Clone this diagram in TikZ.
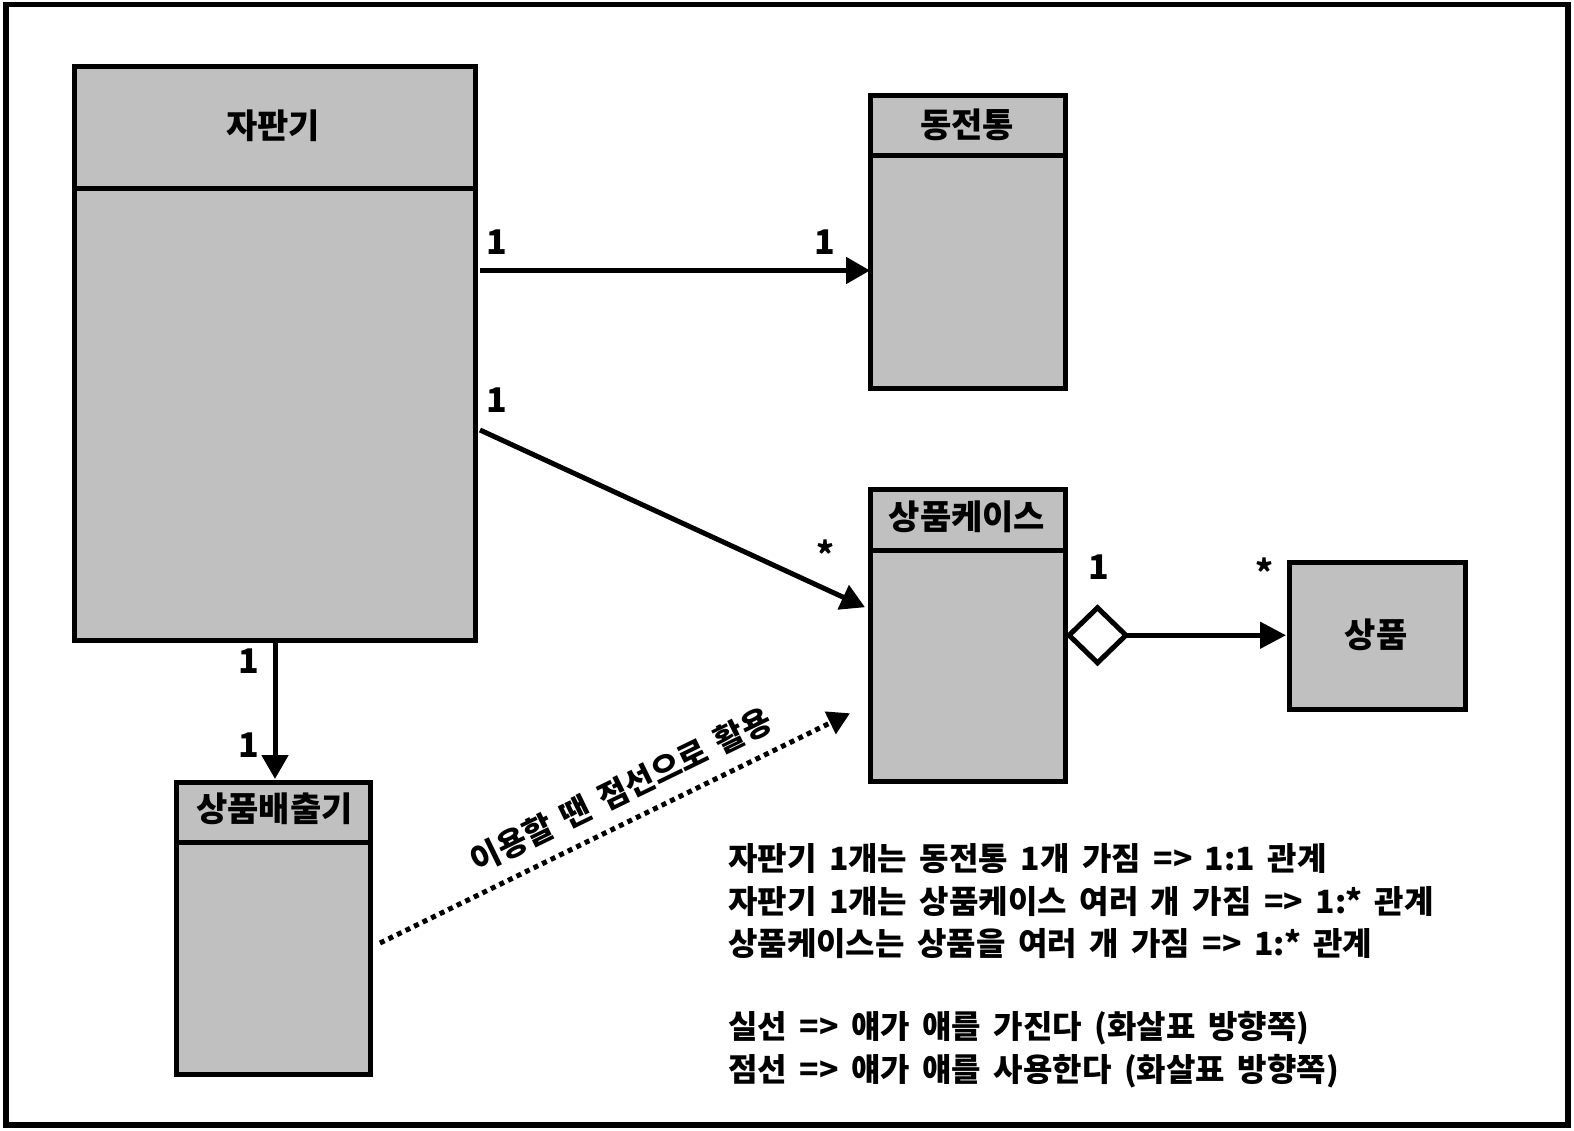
\documentclass[tikz,border=0pt]{standalone}
\usepackage{fontspec}
\usetikzlibrary{arrows.meta}
\newfontfamily\kr{Noto Sans CJK KR}
\newcommand\mynotefont{\kr\bfseries\fontsize{32}{38}\selectfont\spaceskip=12.5pt\relax}
\newcommand\mylabelfont{\kr\bfseries\fontsize{32}{38}\selectfont\spaceskip=12pt\relax}
\definecolor{boxgray}{RGB}{192,192,192}
\begin{document}
\begin{tikzpicture}[x=1pt,y=-1pt,
  cls/.style={draw, line width=5pt, fill=boxgray, outer sep=0pt, inner sep=0pt},
  ttl/.style={font=\kr\bfseries\fontsize{34}{40}\selectfont, inner sep=0pt},
  num/.style={font=\kr\bfseries\fontsize{34}{40}\selectfont, inner sep=0pt},
  note/.style={font=\mynotefont, inner sep=0pt, anchor=base west},
  divider/.style={line width=5pt},
  assoc/.style={line width=5pt, -{Triangle[length=24pt,width=26pt]}},
  useline/.style={line width=5pt, dash pattern=on 5pt off 4.5pt, -{Triangle[length=22pt,width=24pt]}},
  aggr/.style={line width=5pt, {Diamond[open,length=64pt,width=62pt]}-{Triangle[length=26pt,width=26pt]}}
]
\useasboundingbox (0,0) rectangle (1574,1130);
\draw[line width=5.5pt] (6,4.5) rectangle (1568,1125);

% classes
\node[cls, minimum width=401pt, minimum height=574pt] (vm) at (275,353.5) {};
\draw[divider] ([shift={(0,121.5)}]vm.north west) -- ([shift={(0,121.5)}]vm.north east);
\node[ttl] (vmt) at (273,126) {자판기};

\node[cls, minimum width=195.5pt, minimum height=293pt] (coin) at (967.75,241.5) {};
\draw[divider] ([shift={(0,60)}]coin.north west) -- ([shift={(0,60)}]coin.north east);
\node[ttl] (coint) at (967,125) {동전통};

\node[cls, minimum width=195.5pt, minimum height=291.5pt] (case) at (967.75,635.25) {};
\draw[divider] ([shift={(0,61)}]case.north west) -- ([shift={(0,61)}]case.north east);
\node[ttl] (caset) at (967,517) {상품케이스};

\node[cls, minimum width=176.5pt, minimum height=147pt] (prod) at (1377.25,636) {};
\node[ttl] (prodt) at (1376,635) {상품};

\node[cls, minimum width=194pt, minimum height=292pt] (disp) at (273.5,928) {};
\draw[divider] ([shift={(0,60.5)}]disp.north west) -- ([shift={(0,60.5)}]disp.north east);
\node[ttl] (dispt) at (274.5,808.5) {상품배출기};

% connectors
\draw[assoc] ([shift={(4.5,204)}]vm.north east) -- ([shift={(0,29)}]coin.west);
\draw[assoc] ([shift={(4.5,363.5)}]vm.north east) -- ([shift={(-5,-28)}]case.west);
\draw[aggr] (case.east) -- ([shift={(-3,0)}]case.east -| prod.west);
\draw[assoc, shorten >=3pt] (vm.south) -- (vm.south |- disp.north);
\draw[useline] ([shift={(9.5,15)}]disp.east) -- ([shift={(-20,78)}]case.west);

% multiplicities
\node[num] (m1) at (497,242) {1};
\node[num] (m2) at (825,242) {1};
\node[num] (m3) at (497,400) {1};
\node[num, anchor=north] (m4) at (825,540) {*};
\node[num] (m5) at (1099,567) {1};
\node[num, anchor=north] (m6) at (1264,558) {*};
\node[num] (m7) at (248.5,661.5) {1};
\node[num] (m8) at (248.5,745) {1};

% dotted label
\node[font=\mylabelfont, inner sep=0pt, rotate=26] (dl) at (621,790) {이용할 땐 점선으로 활용};

% notes
\node[note] (t1) at (728,870) {자판기 1개는 동전통 1개 가짐 => 1:1 관계};
\node[note] (t2) at (728,913) {자판기 1개는 상품케이스 여러 개 가짐 => 1:* 관계};
\node[note] (t3) at (728,955.5) {상품케이스는 상품을 여러 개 가짐 => 1:* 관계};
\node[note] (t4) at (728,1038) {실선 => 얘가 얘를 가진다 (화살표 방향쪽)};
\node[note] (t5) at (728,1081) {점선 => 얘가 얘를 사용한다 (화살표 방향쪽)};
\end{tikzpicture}
\end{document}
